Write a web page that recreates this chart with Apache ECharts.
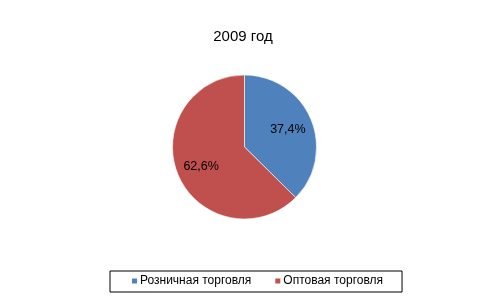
<!DOCTYPE html>
<html>
<head>
<meta charset="utf-8">
<script src="https://cdn.jsdelivr.net/npm/echarts@6/dist/echarts.min.js"></script>
<style>html,body{margin:0;padding:0;background:#fff;}#c{width:486px;height:301px;}</style>
</head>
<body>
<div id="c"></div>
<script>
const titleText = "2009 год";
const categories = ["Розничная торговля", "Оптовая торговля"];
const values = [37.4, 62.6];
const colors = ["#4F81BD", "#C0504D"];

const font = "'Liberation Sans', Arial, sans-serif";
const data = categories.map((c, i) => ({ name: c, value: values[i], itemStyle: { color: colors[i] } }));
const fmt = p => p.value.toFixed(1).replace('.', ',') + '%';

const chart = echarts.init(document.getElementById('c'), null, { renderer: 'canvas' });
chart.setOption({
  backgroundColor: '#fff',
  animation: false,
  title: {
    text: titleText, left: 'center', top: 24,
    textStyle: { fontFamily: font, fontSize: 15, fontWeight: 'normal', color: '#000' }
  },
  legend: {
    data: categories,
    left: 110, top: 271,
    orient: 'horizontal',
    icon: 'rect', itemWidth: 7, itemHeight: 7, itemGap: 22,
    padding: [4, 19, 5, 20],
    borderColor: '#000', borderWidth: 1,
    textStyle: { fontFamily: font, fontSize: 12, color: '#000', padding: [0, 0, 0, -3] }
  },
  series: [{
    type: 'pie',
    center: [244.5, 147],
    radius: 72,
    startAngle: 90,
    clockwise: true,
    data: data,
    itemStyle: { borderColor: '#fff', borderWidth: 0.6 },
    label: { show: false },
    labelLine: { show: false },
    emphasis: { disabled: true }
  }, {
    type: 'pie',
    center: [244.5, 148],
    radius: 88,
    startAngle: 90,
    clockwise: true,
    silent: true,
    legendHoverLink: false,
    data: categories.map((c, i) => ({ name: c, value: values[i], itemStyle: { color: 'rgba(0,0,0,0)' } })),
    label: { show: true, position: 'inside', formatter: fmt, fontFamily: font, fontSize: 12.5, color: '#000' },
    labelLine: { show: false },
    emphasis: { disabled: true }
  }]
});
</script>
</body>
</html>
